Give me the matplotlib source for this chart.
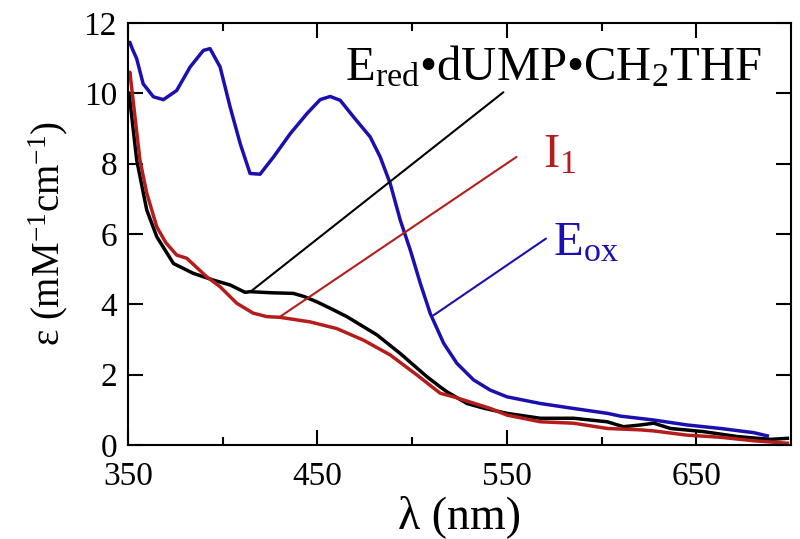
import matplotlib
matplotlib.use("Agg")
import matplotlib.pyplot as plt

plt.rcParams['font.family'] = 'Liberation Serif'
plt.rcParams['mathtext.fontset'] = 'custom'
plt.rcParams['mathtext.rm'] = 'Liberation Serif'
plt.rcParams['mathtext.it'] = 'Liberation Serif:italic'
plt.rcParams['mathtext.bf'] = 'Liberation Serif:bold'

# E_ox spectrum
wl_ox = [350, 351, 352, 354.6, 358, 363.4, 368.7, 375.7, 382.8, 389.8, 393.3, 398.6,
         403.9, 409.2, 414.4, 419.7, 426.8, 435.6, 444.4, 451.4, 456.7, 462, 469,
         477.8, 483.1, 488.4, 493.7, 499, 504.3, 509.5, 516.6, 523.6, 532.4, 541.2,
         550, 567.6, 585, 603, 610, 627.5, 645, 662.7, 680.3, 687.4]
eps_ox = [11.4, 11.45, 11.3, 10.98, 10.27, 9.9, 9.82, 10.08, 10.75, 11.22, 11.27, 10.75,
          9.61, 8.57, 7.72, 7.7, 8.19, 8.85, 9.42, 9.82, 9.91, 9.8, 9.33,
          8.76, 8.19, 7.43, 6.39, 5.54, 4.59, 3.74, 2.89, 2.32, 1.85, 1.56,
          1.37, 1.18, 1.04, 0.9, 0.82, 0.71, 0.57, 0.47, 0.35, 0.26]

# E_red.dUMP.CH2THF spectrum
wl_red = [350.5, 351, 354.6, 359.9, 365.2, 374, 384.5, 395, 403.9, 411.8, 414.4, 425,
          437.3, 443, 449.7, 457, 465.5, 481.4, 493.7, 507.8, 514.8, 518.4, 528.9,
          537.5, 550, 567.6, 585.2, 602.9, 611.5, 620.5, 627.5, 636.3, 653.8, 671.5,
          689, 698]
eps_red = [10.0, 9.8, 8.1, 6.68, 5.92, 5.16, 4.88, 4.69, 4.55, 4.34, 4.36, 4.33,
           4.31, 4.22, 4.07, 3.88, 3.65, 3.13, 2.6, 1.94, 1.65, 1.51, 1.18,
           1.05, 0.9, 0.76, 0.76, 0.66, 0.52, 0.57, 0.62, 0.47, 0.38, 0.24,
           0.16, 0.19]

# I1 spectrum
wl_i1 = [350.5, 351, 356.3, 359.9, 365.2, 370, 375.7, 381, 391.6, 398.6, 407.4, 416,
         423.3, 430.3, 446.1, 460.2, 474.3, 488.4, 502.5, 514.8, 521.8, 541.2, 550,
         567.6, 585, 603, 620.5, 627.5, 645, 662.7, 680.3, 698]
eps_i1 = [10.5, 10.6, 8.1, 7.16, 6.2, 5.75, 5.4, 5.31, 4.78, 4.5, 4.03, 3.75,
          3.65, 3.63, 3.5, 3.31, 2.98, 2.56, 1.99, 1.47, 1.37, 1.04, 0.85,
          0.66, 0.62, 0.47, 0.43, 0.4, 0.28, 0.22, 0.12, 0.05]

blue = '#1c0fb0'
red = '#b51d1d'

fig = plt.figure(figsize=(8, 5.39), dpi=100)
ax = fig.add_axes([0.16, 0.1744, 0.829, 0.783])

ax.plot(wl_ox, eps_ox, color=blue, lw=2.5)
ax.plot(wl_red, eps_red, color='black', lw=2.5)
ax.plot(wl_i1, eps_i1, color=red, lw=2.5)

# leader lines + labels
line_kw = dict(arrowstyle='-', shrinkA=0, shrinkB=0, lw=1.5)
ax.annotate('', xy=(414.4, 4.35), xytext=(548.1, 10.03),
            arrowprops=dict(color='black', **line_kw))
ax.annotate('', xy=(430.3, 3.65), xytext=(555, 8.19),
            arrowprops=dict(color=red, **line_kw))
ax.annotate('', xy=(511.3, 3.69), xytext=(570.6, 5.87),
            arrowprops=dict(color=blue, **line_kw))

ax.text(464.6, 10.37, r'E$_{\mathrm{red}}$•dUMP•CH$_{\mathrm{2}}$THF', fontsize=35,
        color='black', va='baseline', ha='left')
ax.text(569.2, 7.9, r'I$_{\mathrm{1}}$', fontsize=35, color=red, va='baseline', ha='left')
ax.text(574.5, 5.4, r'E$_{\mathrm{ox}}$', fontsize=35, color=blue, va='baseline', ha='left')

ax.set_xlim(350, 700)
ax.set_ylim(0, 12)
ax.set_xticks([350, 450, 550, 650])
ax.set_xticks([400, 500, 600], minor=True)
ax.set_yticks([0, 2, 4, 6, 8, 10, 12])

ax.tick_params(which='both', direction='in', top=True, right=True, width=1.5,
               labelsize=24)
ax.tick_params(axis='x', pad=12)
ax.tick_params(axis='y', pad=8)
ax.tick_params(which='major', length=11)
ax.tick_params(which='minor', length=6)
for s in ax.spines.values():
    s.set_linewidth(1.5)

ax.set_xlabel('λ (nm)', fontsize=33, labelpad=2)
ax.set_ylabel(r'ε (mM$^{\mathrm{-1}}$cm$^{\mathrm{-1}}$)', fontsize=28, labelpad=10)

plt.savefig('out.png', dpi=100)
